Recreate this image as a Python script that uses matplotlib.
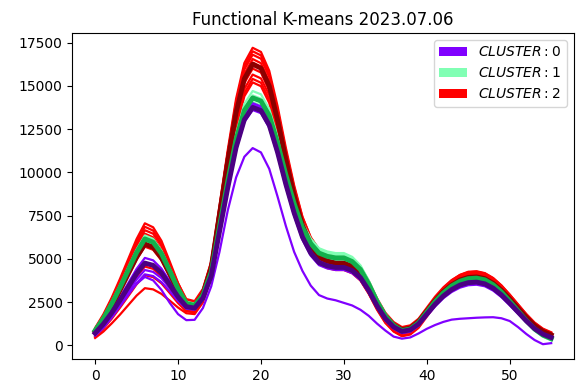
import matplotlib
matplotlib.use("Agg")
import matplotlib.pyplot as plt
from matplotlib.patches import Patch
import numpy as np

# time index of each profile
x = list(range(56))

# ---- cluster 0 members ----
c0_members = [
    [750, 1310, 2000, 2770, 3590, 4410, 5050, 4910, 4430, 3710, 2950, 2330, 2250, 2840, 4130, 6720, 9300, 11650, 13300, 14000,
     13810, 12970, 11370, 9490, 7800, 6390, 5450, 4880, 4690, 4600, 4600, 4410, 4000, 3250, 2350, 1600, 1110, 850, 940, 1280,
     1850, 2420, 2900, 3270, 3530, 3670, 3700, 3600, 3350, 2960, 2480, 1970, 1460, 1010, 690, 500],
    [680, 1200, 1850, 2570, 3330, 4100, 4700, 4570, 4130, 3450, 2750, 2180, 2100, 2690, 3980, 6570, 9150, 11500, 13150, 13850,
     13660, 12820, 11220, 9340, 7650, 6240, 5300, 4730, 4540, 4450, 4450, 4270, 3860, 3120, 2230, 1490, 1010, 750, 840, 1180,
     1750, 2320, 2800, 3170, 3430, 3570, 3600, 3510, 3250, 2870, 2390, 1880, 1370, 930, 610, 420],
    [650, 1130, 1720, 2390, 3090, 3800, 4350, 4240, 3880, 3320, 2740, 2260, 2200, 2790, 4070, 6650, 9220, 11560, 13200, 13900,
     13710, 12870, 11270, 9390, 7700, 6290, 5350, 4780, 4590, 4500, 4500, 4320, 3910, 3170, 2280, 1540, 1060, 800, 890, 1230,
     1800, 2370, 2850, 3220, 3480, 3620, 3650, 3550, 3300, 2910, 2430, 1920, 1410, 960, 640, 450],
    [600, 1060, 1620, 2250, 2910, 3580, 4100, 4000, 3650, 3120, 2560, 2110, 2050, 2630, 3900, 6440, 8980, 11290, 12910, 13600,
     13420, 12580, 11010, 9160, 7500, 6110, 5180, 4630, 4440, 4350, 4350, 4170, 3770, 3040, 2160, 1430, 960, 700, 780, 1120,
     1680, 2240, 2720, 3080, 3330, 3470, 3500, 3410, 3160, 2780, 2310, 1820, 1320, 880, 570, 380],
    [550, 1000, 1600, 2300, 3000, 3550, 3950, 3750, 3200, 2450, 1800, 1450, 1470, 2150, 3400, 5400, 7800, 9700, 10900, 11400,
     11150, 10200, 8600, 6900, 5400, 4300, 3450, 2900, 2700, 2600, 2450, 2300, 2050, 1700, 1250, 850, 500, 380, 450, 680,
     950, 1170, 1350, 1480, 1530, 1560, 1590, 1610, 1620, 1560, 1400, 1050, 650, 300, 60, 120],
]

# ---- cluster 1 members ----
c1_members = [
    [900, 1610, 2480, 3460, 4500, 5530, 6350, 6150, 5470, 4430, 3350, 2470, 2350, 2970, 4330, 7040, 9760, 12230, 13960, 14700,
     14510, 13670, 12080, 10200, 8520, 7110, 6170, 5610, 5420, 5330, 5330, 5110, 4620, 3740, 2670, 1790, 1210, 900, 990, 1360,
     1970, 2580, 3100, 3490, 3770, 3920, 3950, 3840, 3560, 3140, 2610, 2040, 1480, 990, 630, 420],
    [820, 1510, 2350, 3300, 4310, 5310, 6100, 5910, 5250, 4250, 3210, 2370, 2250, 2860, 4200, 6890, 9570, 12010, 13720, 14450,
     14260, 13430, 11850, 9990, 8310, 6920, 5990, 5430, 5240, 5150, 5150, 4930, 4450, 3580, 2540, 1670, 1100, 800, 890, 1260,
     1870, 2480, 3000, 3390, 3670, 3820, 3850, 3740, 3460, 3040, 2510, 1950, 1390, 890, 540, 330],
    [780, 1460, 2290, 3230, 4230, 5220, 6000, 5820, 5190, 4220, 3230, 2410, 2300, 2890, 4180, 6770, 9350, 11700, 13350, 14050,
     13870, 13040, 11490, 9660, 8010, 6640, 5720, 5170, 4990, 4900, 4900, 4700, 4250, 3440, 2470, 1660, 1130, 850, 940, 1290,
     1880, 2470, 2970, 3360, 3620, 3770, 3800, 3690, 3410, 2990, 2460, 1900, 1340, 840, 490, 280],
    [950, 1640, 2490, 3440, 4450, 5460, 6250, 6060, 5400, 4400, 3360, 2520, 2400, 2990, 4300, 6900, 9510, 11880, 13540, 14250,
     14070, 13260, 11730, 9930, 8310, 6960, 6060, 5520, 5340, 5250, 5250, 5040, 4560, 3700, 2670, 1810, 1250, 950, 1040, 1400,
     2000, 2600, 3110, 3500, 3770, 3920, 3950, 3840, 3560, 3130, 2600, 2030, 1470, 970, 610, 400],
]

# ---- cluster 2 members ----
c2_members = [
    [1000, 1790, 2750, 3840, 4990, 6140, 7050, 6820, 6040, 4840, 3600, 2590, 2450, 3190, 4810, 8060, 11300, 14250, 16320, 17200,
     16960, 15870, 13830, 11420, 9250, 7440, 6230, 5510, 5270, 5150, 5150, 4930, 4450, 3570, 2510, 1630, 1060, 750, 860, 1280,
     1990, 2690, 3290, 3750, 4070, 4250, 4280, 4170, 3890, 3460, 2930, 2360, 1790, 1290, 930, 720],
    [950, 1720, 2660, 3720, 4840, 5970, 6850, 6630, 5860, 4690, 3480, 2490, 2350, 3080, 4690, 7920, 11140, 14070, 16120, 17000,
     16760, 15670, 13630, 11220, 9050, 7240, 6030, 5310, 5070, 4950, 4950, 4750, 4310, 3510, 2550, 1750, 1230, 950, 1050, 1430,
     2070, 2710, 3250, 3670, 3960, 4120, 4150, 4050, 3770, 3350, 2830, 2280, 1720, 1240, 890, 680],
    [900, 1650, 2570, 3600, 4700, 5790, 6650, 6450, 5750, 4680, 3580, 2670, 2550, 3260, 4830, 7970, 11100, 13950, 15950, 16800,
     16570, 15520, 13550, 11230, 9140, 7400, 6240, 5550, 5320, 5200, 5200, 4990, 4540, 3710, 2710, 1880, 1340, 1050, 1150, 1530,
     2170, 2810, 3350, 3770, 4060, 4220, 4250, 4150, 3870, 3450, 2920, 2360, 1800, 1310, 960, 750],
    [880, 1600, 2500, 3500, 4560, 5620, 6450, 6240, 5520, 4410, 3260, 2330, 2200, 2920, 4500, 7650, 10810, 13680, 15690, 16550,
     16310, 15250, 13230, 10860, 8730, 6950, 5770, 5060, 4820, 4700, 4700, 4510, 4080, 3310, 2390, 1620, 1120, 850, 950, 1330,
     1970, 2610, 3150, 3570, 3860, 4020, 4050, 3950, 3670, 3260, 2750, 2200, 1650, 1170, 830, 620],
    [820, 1520, 2380, 3350, 4370, 5390, 6200, 6010, 5360, 4380, 3350, 2510, 2400, 3100, 4630, 7700, 10770, 13560, 15510, 16350,
     16110, 15050, 13050, 10690, 8560, 6790, 5610, 4900, 4670, 4550, 4550, 4360, 3930, 3150, 2210, 1430, 920, 650, 760, 1180,
     1890, 2600, 3210, 3670, 3990, 4170, 4200, 4090, 3800, 3360, 2820, 2230, 1650, 1140, 780, 560],
    [760, 1400, 2190, 3080, 4020, 4960, 5700, 5520, 4910, 3970, 3000, 2210, 2100, 2800, 4320, 7380, 10440, 13220, 15170, 16000,
     15770, 14720, 12750, 10430, 8340, 6600, 5440, 4750, 4520, 4400, 4400, 4210, 3780, 3010, 2090, 1320, 820, 550, 650, 1060,
     1740, 2420, 3000, 3440, 3750, 3920, 3950, 3850, 3570, 3160, 2650, 2100, 1550, 1070, 730, 520],
    [620, 1130, 1760, 2470, 3210, 3960, 4550, 4420, 3980, 3300, 2600, 2030, 1950, 2640, 4140, 7160, 10170, 12910, 14830, 15650,
     15430, 14460, 12630, 10470, 8520, 6900, 5820, 5170, 4960, 4850, 4850, 4650, 4200, 3390, 2420, 1610, 1080, 800, 890, 1250,
     1850, 2450, 2960, 3350, 3620, 3770, 3800, 3710, 3450, 3080, 2600, 2100, 1600, 1150, 840, 650],
    [500, 960, 1530, 2170, 2840, 3520, 4050, 3940, 3580, 3020, 2440, 1960, 1900, 2580, 4060, 7030, 10000, 12700, 14590, 15400,
     15180, 14210, 12380, 10220, 8270, 6650, 5570, 4920, 4710, 4600, 4600, 4410, 3980, 3200, 2260, 1480, 970, 700, 800, 1210,
     1890, 2570, 3150, 3590, 3900, 4070, 4100, 3990, 3700, 3270, 2720, 2150, 1570, 1060, 700, 480],
    [420, 790, 1260, 1770, 2320, 2870, 3300, 3230, 2970, 2580, 2180, 1850, 1800, 2470, 3940, 6890, 9840, 12520, 14400, 15200,
     14980, 14010, 12160, 9990, 8040, 6410, 5330, 4680, 4460, 4350, 4350, 4160, 3740, 2970, 2050, 1290, 790, 520, 620, 1000,
     1650, 2300, 2850, 3270, 3560, 3720, 3750, 3650, 3380, 2980, 2490, 1950, 1420, 950, 620, 420],
]

# ---- cluster centroids ----
c0_center = [700, 1230, 1870, 2600, 3370, 4140, 4750, 4620, 4180, 3500, 2800, 2230, 2150, 2730, 4010, 6560, 9110, 11430, 13050, 13750,
             13570, 12730, 11160, 9310, 7650, 6260, 5330, 4780, 4590, 4500, 4500, 4320, 3910, 3170, 2280, 1540, 1060, 800, 890, 1230,
             1800, 2370, 2850, 3220, 3480, 3620, 3650, 3550, 3300, 2910, 2430, 1920, 1410, 960, 640, 450]
c1_center = [850, 1540, 2390, 3340, 4350, 5360, 6150, 5960, 5300, 4300, 3260, 2420, 2300, 2900, 4220, 6860, 9500, 11900, 13580, 14300,
             14120, 13280, 11710, 9860, 8200, 6810, 5880, 5330, 5140, 5050, 5050, 4840, 4380, 3540, 2530, 1690, 1140, 850, 940, 1300,
             1910, 2520, 3030, 3430, 3700, 3850, 3880, 3780, 3500, 3080, 2550, 1990, 1430, 940, 590, 380]
c2_center = [800, 1460, 2260, 3170, 4130, 5090, 5850, 5670, 5060, 4120, 3150, 2360, 2250, 2950, 4490, 7570, 10650, 13450, 15410, 16250,
             16020, 14990, 13030, 10730, 8660, 6940, 5790, 5100, 4870, 4750, 4750, 4560, 4130, 3360, 2440, 1670, 1170, 900, 990, 1360,
             1970, 2580, 3100, 3490, 3770, 3920, 3950, 3850, 3580, 3180, 2680, 2140, 1610, 1140, 800, 600]

cluster_labels = ["$CLUSTER : 0$", "$CLUSTER : 1$", "$CLUSTER : 2$"]
cmap = plt.cm.rainbow
member_colors = [cmap(0.0), cmap(0.5), cmap(1.0)]
center_colors = ["#4b0082", "#12b04c", "#8b0000"]

fig = plt.figure(figsize=(5.77, 3.88), dpi=100)
ax = fig.add_axes([0.1253, 0.0747, 0.8695, 0.8403])

for members, col in ((c2_members, member_colors[2]),
                     (c1_members, member_colors[1]),
                     (c0_members, member_colors[0])):
    for curve in members:
        ax.plot(x, curve, color=col, lw=1.6, zorder=2)

for center, col in ((c2_center, center_colors[2]),
                    (c1_center, center_colors[1]),
                    (c0_center, center_colors[0])):
    ax.plot(x, center, color=col, lw=3.5, zorder=3)

handles = [Patch(facecolor=member_colors[k], label=cluster_labels[k]) for k in range(3)]
ax.legend(handles=handles, loc="upper right")
ax.set_title("Functional K-means 2023.07.06")

fig.savefig("out.png", dpi=100)
